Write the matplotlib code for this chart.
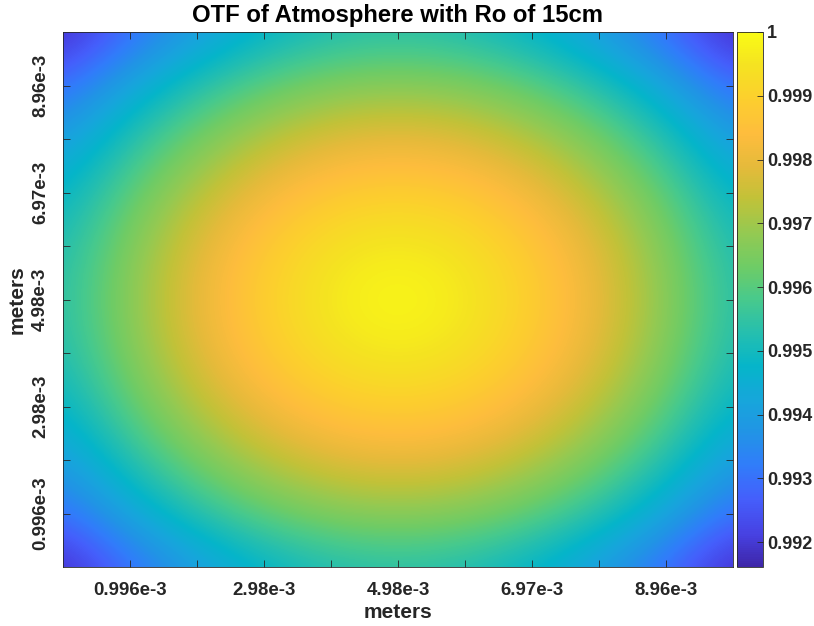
import numpy as np
import matplotlib
matplotlib.use("Agg")
import matplotlib.pyplot as plt
from matplotlib.colors import LinearSegmentedColormap

# OTF values, one quadrant: rows go up from the centre,
# columns go right from the centre, step = one tick (0.996e-3 m)
quadrant = [
    [1.00000, 0.99968, 0.99898, 0.99799, 0.99676, 0.99530],
    [0.99968, 0.99943, 0.99877, 0.99781, 0.99659, 0.99514],
    [0.99898, 0.99877, 0.99818, 0.99727, 0.99610, 0.99468],
    [0.99799, 0.99781, 0.99727, 0.99643, 0.99530, 0.99393],
    [0.99676, 0.99659, 0.99610, 0.99530, 0.99423, 0.99290],
    [0.99530, 0.99514, 0.99468, 0.99393, 0.99290, 0.99163],
]
step = 0.996e-3
tick_labels = ["0.996e-3", "2.98e-3", "4.98e-3", "6.97e-3", "8.96e-3"]
cbar_ticks = [0.992, 0.993, 0.994, 0.995, 0.996, 0.997, 0.998, 0.999, 1]
cbar_labels = ["0.992", "0.993", "0.994", "0.995", "0.996", "0.997", "0.998", "0.999", "1"]
vmin, vmax = 0.99161, 1.0

# the picture is symmetric, mirror the quadrant to the full grid
q = np.array(quadrant)
half = np.concatenate([q[::-1], q[1:]], axis=0)
otf = np.concatenate([half[:, ::-1], half[:, 1:]], axis=1)

# parula-like colormap
parula = LinearSegmentedColormap.from_list("parula", [
    (0.000, (0.2422, 0.1504, 0.6603)),
    (0.060, (0.2780, 0.2560, 0.8880)),
    (0.125, (0.2700, 0.3700, 0.9860)),
    (0.190, (0.1900, 0.4900, 0.9800)),
    (0.250, (0.1300, 0.5800, 0.9000)),
    (0.310, (0.0900, 0.6500, 0.8600)),
    (0.375, (0.0200, 0.7100, 0.7900)),
    (0.440, (0.1500, 0.7500, 0.6800)),
    (0.500, (0.2800, 0.7900, 0.5500)),
    (0.560, (0.4300, 0.8000, 0.4000)),
    (0.625, (0.5800, 0.7900, 0.3200)),
    (0.690, (0.7600, 0.7600, 0.2200)),
    (0.750, (0.9000, 0.7300, 0.2300)),
    (0.810, (0.9950, 0.7400, 0.2400)),
    (0.875, (0.9900, 0.8100, 0.1800)),
    (0.940, (0.9600, 0.8900, 0.1300)),
    (1.000, (0.9769, 0.9839, 0.0805)),
], N=256)

plt.rcParams["font.family"] = ["Liberation Sans", "DejaVu Sans"]
plt.rcParams["font.weight"] = "bold"
txt = (0.15, 0.15, 0.15)

fig = plt.figure(figsize=(8.14, 6.26), dpi=100)
ax = fig.add_axes([63 / 814, 1 - 567 / 626, 670 / 814, 535 / 626])
cax = fig.add_axes([737 / 814, 1 - 567 / 626, 26 / 814, 535 / 626])

n = otf.shape[0]
ext = [-step / 2, (n - 0.5) * step, -step / 2, (n - 0.5) * step]
im = ax.imshow(otf, origin="lower", extent=ext, aspect="auto", cmap=parula,
               vmin=vmin, vmax=vmax, interpolation="bicubic")
ax.set_xlim(0, (n - 1) * step)
ax.set_ylim(0, (n - 1) * step)

ticks = np.arange(1, n - 1) * step
ax.set_xticks(ticks)
ax.set_yticks(ticks)
ax.set_xticklabels([tick_labels[i // 2] if i % 2 == 0 else "" for i in range(len(ticks))])
ax.set_yticklabels([tick_labels[i // 2] if i % 2 == 0 else "" for i in range(len(ticks))],
                   rotation=90, va="center")
ax.tick_params(direction="in", length=5, width=0.6, color=txt, labelcolor=txt,
               labelsize=13.4, top=True, right=True)
ax.tick_params(axis="x", pad=11)
ax.tick_params(axis="y", pad=10)
for s in ax.spines.values():
    s.set_color(txt)
    s.set_linewidth(0.6)

ax.set_title("OTF of Atmosphere with Ro of 15cm", fontsize=17.2, fontweight="bold", pad=7)
ax.set_xlabel("meters", fontsize=15, fontweight="bold", color=txt, labelpad=3)
ax.set_ylabel("meters", fontsize=15, fontweight="bold", color=txt, labelpad=4)

cb = fig.colorbar(im, cax=cax)
cb.set_ticks(cbar_ticks)
cb.set_ticklabels(cbar_labels)
cax.tick_params(direction="in", length=4, width=0.6, color=txt, labelcolor=txt,
                labelsize=13, pad=3)
cb.outline.set_edgecolor(txt)
cb.outline.set_linewidth(0.6)

fig.savefig("out.png", dpi=100)
